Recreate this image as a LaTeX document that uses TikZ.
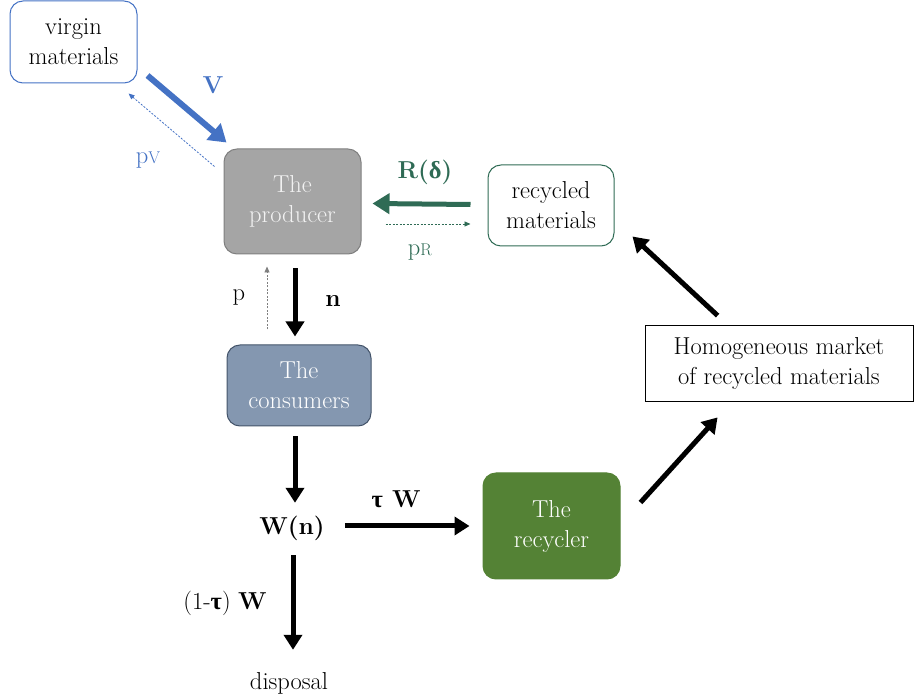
\documentclass[tikz,border=0pt]{standalone}
\usepackage{fontspec}
\newfontfamily\greekf{Liberation Serif}
\usetikzlibrary{arrows.meta,calc}
\definecolor{vblue}{RGB}{68,114,196}
\definecolor{rgreen}{RGB}{47,107,85}
\definecolor{prodgray}{RGB}{165,165,165}
\definecolor{prodborder}{RGB}{127,127,127}
\definecolor{consfill}{RGB}{132,151,176}
\definecolor{consborder}{RGB}{68,84,106}
\definecolor{recfill}{RGB}{84,130,53}
\newcommand{\fsz}{\fontsize{24.5}{30}\selectfont}
\newcommand{\smallcap}[1]{{\fontsize{17}{17}\selectfont #1}}
\tikzset{
  txt/.style={font=\fsz, align=center},
  boxx/.style={txt, rounded corners=13pt, inner sep=0pt, line width=1pt},
  bigarrow/.style={line width=5pt, -{Triangle[length=15pt,width=18pt]}},
  thinarrow/.style={line width=0.8pt, dash pattern=on 2pt off 1.5pt, -{Triangle[length=6pt,width=5pt]}},
  lbl/.style={txt, inner sep=0pt}
}
\begin{document}
\begin{tikzpicture}[x=1pt,y=-1pt]
\useasboundingbox (0,0) rectangle (914,700);
% nodes
\node[boxx, draw=vblue, minimum width=127pt, minimum height=82pt] (virgin) at (73.5,42) {virgin\\materials};
\node[boxx, draw=prodborder, fill=prodgray, text=white!95!black, minimum width=137pt, minimum height=105pt] (producer) at (292.5,201.5) {The\\producer};
\node[boxx, draw=rgreen, minimum width=126pt, minimum height=81pt] (recycled) at (551,205.5) {recycled\\materials};
\node[boxx, draw=consborder, fill=consfill, text=white, minimum width=144pt, minimum height=81pt] (consumers) at (299,385.5) {The\\consumers};
\node[boxx, draw=recfill, fill=recfill, text=white, minimum width=137pt, minimum height=106pt] (recycler) at (551.5,526) {The\\recycler};
\node[txt, draw=black, line width=0.8pt, inner sep=0pt, minimum width=268pt, minimum height=76pt] (market) at (779,363) {Homogeneous market\\of recycled materials};
\node[lbl, font=\fsz\bfseries, minimum height=26pt] (Wn) at (292,528) {W(n)};
\node[lbl, minimum height=26pt] (disposal) at (289,683) {disposal};
% labels
\node[lbl, text=vblue, font=\fsz\bfseries] (Vl) at (213,85) {V};
\node[lbl, text=vblue] (pVl) at (148,160) {p\smallcap{V}};
\node[lbl, text=rgreen, font=\fsz\bfseries] (Rl) at (425,172) {R({\greekf δ})};
\node[lbl, text=rgreen] (pRl) at (420,252) {p\smallcap{R}};
\node[lbl] (pl) at (239,298) {p};
\node[lbl, font=\fsz\bfseries] (nl) at (333,301) {n};
\node[lbl, font=\fsz\bfseries] (tWl) at (396,499) {{\greekf τ} W};
\node[lbl] (otWl) at (225,603) {(1-{\greekf\bfseries τ}) \textbf{W}};
% connectors
\draw[bigarrow, vblue, line width=6pt, -{Triangle[length=17pt,width=21pt]}] ($(virgin.south east)+(10,-8)$) -- ($(producer.north west)+(3,-6)$);
\draw[thinarrow, vblue] ($(producer.north west)+(-9,18)$) -- ($(virgin.south east)+(-9,10)$);
\draw[bigarrow, rgreen, -{Triangle[length=17pt,width=20pt]}] ($(recycled.west)+(-17,-1)$) -- ($(producer.east)+(11,2)$);
\draw[thinarrow, rgreen] ($(producer.east)+(24,22.5)$) -- ($(recycled.west)+(-17,18.5)$);
\draw[thinarrow, prodborder] ($(consumers.north)+(-32,-15)$) -- ($(producer.south)+(-25.5,12)$);
\draw[bigarrow] ($(producer.south)+(2.5,14)$) -- ($(consumers.north)+(-4,-8)$);
\draw[bigarrow] ($(consumers.south)+(-4,10)$) -- ($(Wn.north)+(3,-12)$);
\draw[bigarrow] ($(Wn.east)+(20,-2)$) -- ($(recycler.west)+(-13,0)$);
\draw[bigarrow] ($(Wn.south)+(1,14)$) -- ($(disposal.north)+(4,-20)$);
\draw[bigarrow] ($(recycler.north east)+(20,30)$) -- ($(market.south west)+(73,16)$);
\draw[bigarrow] ($(market.north west)+(73,-9)$) -- ($(recycled.south east)+(18,-10)$);
\end{tikzpicture}
\end{document}
